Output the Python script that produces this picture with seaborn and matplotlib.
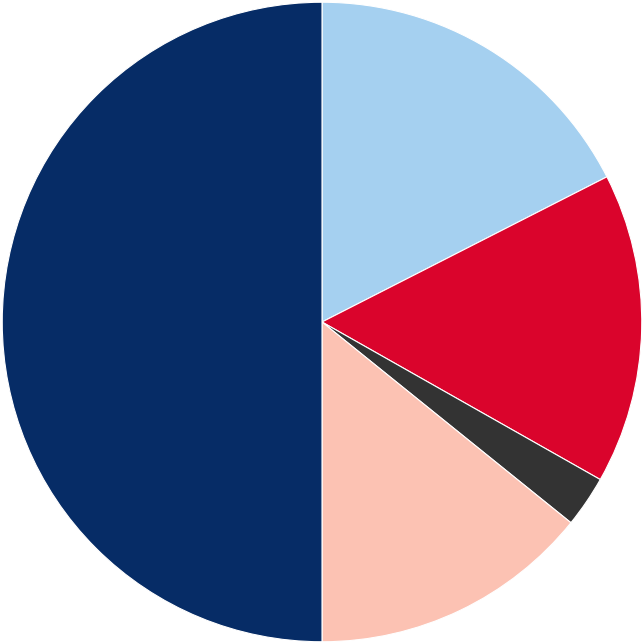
import matplotlib
matplotlib.use("Agg")
import matplotlib.pyplot as plt
import seaborn as sns

labels = ["Light blue", "Red", "Dark grey", "Pink", "Navy"]
shares = [17.5, 15.7, 2.6, 14.2, 50.0]
colors = ["#a5d0f0", "#da042c", "#333333", "#fcc2b3", "#062c66"]

sns.set_theme(style="white")
palette = sns.color_palette(colors)

fig = plt.figure(figsize=(6.44, 6.44), dpi=100)
ax = fig.add_axes([0, 0, 1, 1])

ax.pie(
    shares,
    colors=palette,
    startangle=90,
    counterclock=False,
    radius=1.0,
    wedgeprops=dict(edgecolor="white", linewidth=0.8),
)
ax.set_xlim(-1.007, 1.007)
ax.set_ylim(-1.007, 1.007)
ax.set_aspect("equal")
ax.axis("off")

fig.savefig("out.png", dpi=100, facecolor="white")
